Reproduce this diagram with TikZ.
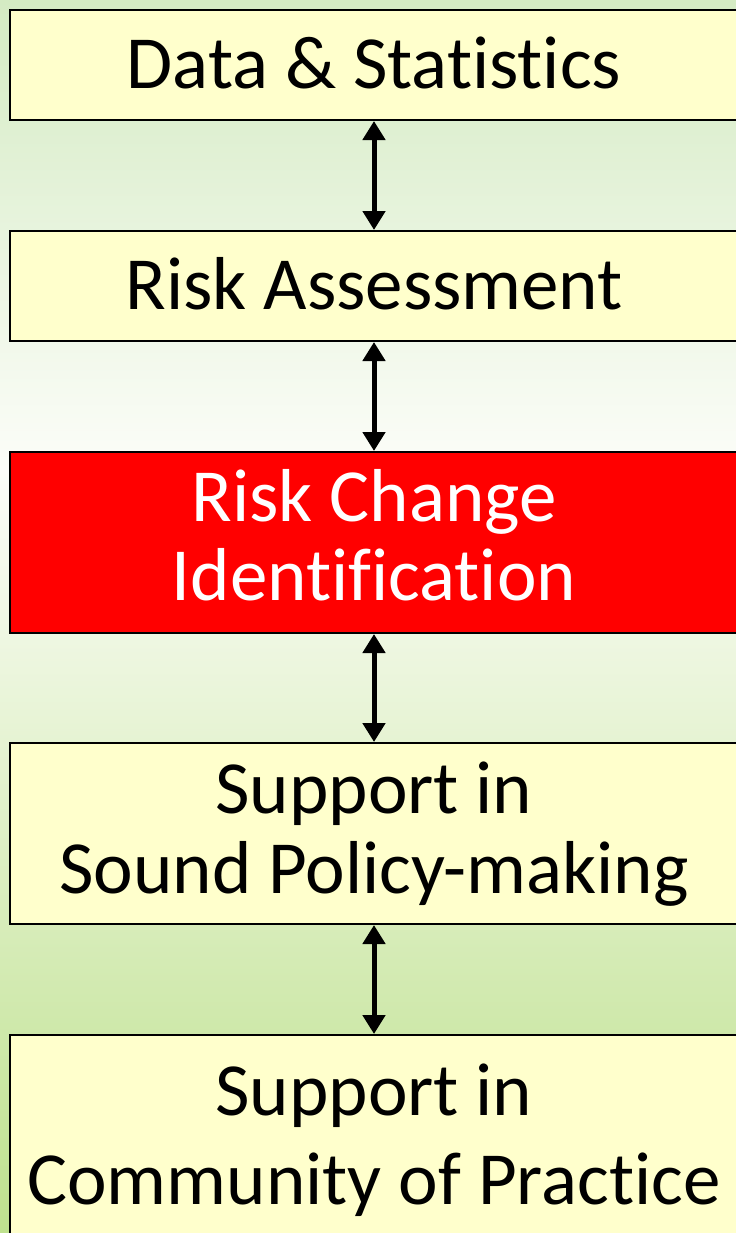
\documentclass[tikz,border=0pt]{standalone}
\usepackage{fontspec}
\setmainfont{Carlito}[Ligatures={NoCommon}]
\usetikzlibrary{arrows.meta}
\definecolor{bgtop}{RGB}{212,235,195}
\definecolor{bgmid}{RGB}{252,253,249}
\definecolor{bgbot}{RGB}{190,225,142}
\definecolor{boxfill}{RGB}{255,255,204}
\definecolor{hot}{RGB}{255,0,0}
\tikzset{
  stagebox/.style={draw=black, line width=2bp, fill=boxfill, minimum width=728bp, inner sep=0pt, anchor=north},
  hotbox/.style={stagebox, fill=hot},
  lbl/.style={anchor=base, inner sep=0pt, font=\fontsize{75bp}{80bp}\selectfont},
  dbl/.style={line width=5bp, {Triangle[width=22bp,length=19bp]}-{Triangle[width=22bp,length=19bp]}}
}
\begin{document}
\begin{tikzpicture}[x=1bp,y=-1bp]
\useasboundingbox (0,0) rectangle (736,1233);
\clip (0,0) rectangle (736,1233);
\shade[top color=bgtop, bottom color=bgmid] (0,0) rectangle (736,470);
\shade[top color=bgmid, bottom color=bgbot] (0,470) rectangle (736,1233);
\node[stagebox, minimum height=110bp] (b1) at (374,9) {};
\node[stagebox, minimum height=110bp] (b2) at (374,230) {};
\node[hotbox, minimum height=181bp] (b3) at (374,451) {};
\node[stagebox, minimum height=181bp] (b4) at (374,742) {};
\node[stagebox, minimum height=220bp] (b5) at (374,1034) {};
\node[lbl] (t1) at (374,88) {Data \& Statistics};
\node[lbl] (t2) at (374,309) {Risk Assessment};
\node[lbl, text=white] (t3a) at (374,521) {Risk Change};
\node[lbl, text=white] (t3b) at (374,600) {Identification};
\node[lbl] (t4a) at (374,813) {Support in};
\node[lbl] (t4b) at (374,893) {Sound Policy-making};
\node[lbl] (t5a) at (374,1115) {Support in};
\node[lbl] (t5b) at (374,1204) {Community of Practice};
\draw[dbl] (b1.south) -- (b2.north);
\draw[dbl] (b2.south) -- (b3.north);
\draw[dbl] (b3.south) -- (b4.north);
\draw[dbl] (b4.south) -- (b5.north);
\end{tikzpicture}
\end{document}
